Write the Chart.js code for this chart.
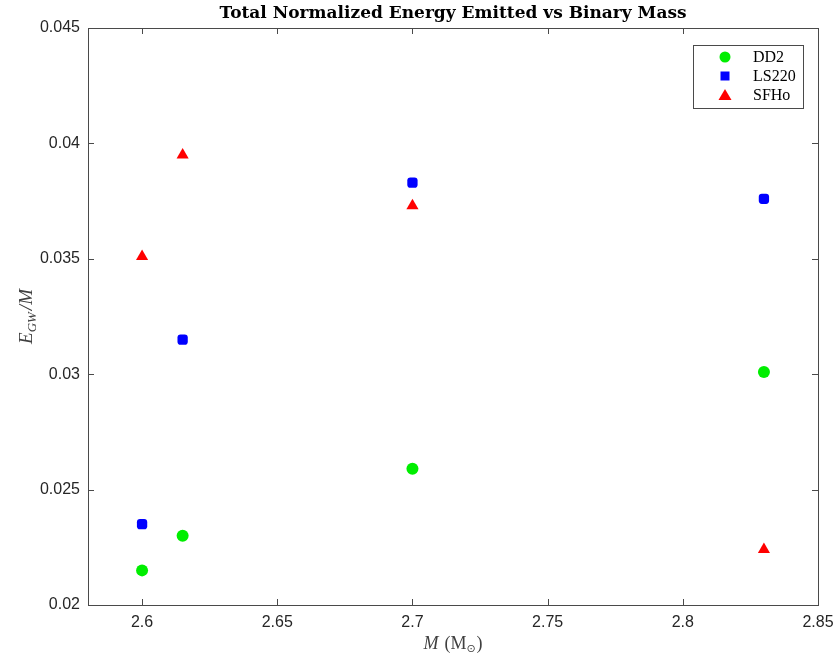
<!DOCTYPE html>
<html>
<head>
<meta charset="utf-8">
<script src="https://cdn.jsdelivr.net/npm/chart.js@4.4.0/dist/chart.umd.min.js"></script>
<style>
  html, body { margin: 0; padding: 0; background: #fff; }
  #wrap { width: 837px; height: 660px; }
</style>
</head>
<body>
<div id="wrap"><canvas id="chart"></canvas></div>
<script>
// Data
const masses = [2.6, 2.615, 2.7, 2.83];
const dd2 = [0.0215, 0.0230, 0.0259, 0.0301];
const ls220 = [0.0235, 0.0315, 0.0383, 0.0376];
const sfho = [0.0351, 0.0395, 0.0373, 0.0224];

const xTicks = [2.6, 2.65, 2.7, 2.75, 2.8, 2.85];
const yTicks = [0.02, 0.025, 0.03, 0.035, 0.04, 0.045];

const AXIS = '#262626';
const FRAME = '#4a4a4a';

function pts(ys) {
    return masses.map((m, i) => ({ x: m, y: ys[i] }));
}

// box, inner ticks, title, axis labels and legend
const framePlugin = {
    id: 'frame',
    afterDraw(chart) {
        const { ctx, chartArea: a, scales } = chart;
        ctx.save();
        ctx.strokeStyle = FRAME;
        ctx.lineWidth = 1;
        ctx.strokeRect(a.left + 0.5, a.top + 0.5, a.right - a.left, a.bottom - a.top);

        const tl = 6;
        ctx.beginPath();
        xTicks.forEach(v => {
            const px = Math.round(scales.x.getPixelForValue(v)) + 0.5;
            ctx.moveTo(px, a.bottom); ctx.lineTo(px, a.bottom - tl);
            ctx.moveTo(px, a.top); ctx.lineTo(px, a.top + tl);
        });
        yTicks.forEach(v => {
            const py = Math.round(scales.y.getPixelForValue(v)) + 0.5;
            ctx.moveTo(a.left, py); ctx.lineTo(a.left + tl, py);
            ctx.moveTo(a.right, py); ctx.lineTo(a.right - tl, py);
        });
        ctx.stroke();

        // title
        ctx.fillStyle = '#000';
        ctx.font = 'bold 17px "DejaVu Serif", serif';
        ctx.textAlign = 'center';
        ctx.textBaseline = 'alphabetic';
        ctx.fillText('Total Normalized Energy Emitted vs Binary Mass', (a.left + a.right) / 2, 18);

        // x label: M (M_sun)
        ctx.fillStyle = '#404040';
        const cx = (a.left + a.right) / 2;
        const by = 649;
        ctx.textAlign = 'left';
        const fIt = 'italic 18px "Liberation Serif", serif';
        const fRm = '18px "Liberation Serif", serif';
        const fSun = '11px "DejaVu Sans", sans-serif';
        ctx.font = fIt;
        const w1 = ctx.measureText('M').width;
        ctx.font = fRm;
        const w2 = ctx.measureText('(M').width;
        const w4 = ctx.measureText(')').width;
        ctx.font = fSun;
        const w3 = ctx.measureText('\u2299').width;
        let x0 = cx - (w1 + 6 + w2 + w3 + 1 + w4) / 2;
        ctx.font = fIt;
        ctx.fillText('M', x0, by); x0 += w1 + 6;
        ctx.font = fRm;
        ctx.fillText('(M', x0, by); x0 += w2;
        ctx.font = fSun;
        ctx.fillText('\u2299', x0, by + 3); x0 += w3 + 1;
        ctx.font = fRm;
        ctx.fillText(')', x0, by);

        // y label: E_GW / M
        ctx.save();
        ctx.translate(26, (a.top + a.bottom) / 2);
        ctx.rotate(-Math.PI / 2);
        const fBig = 'italic 19px "Liberation Serif", serif';
        const fSub = 'italic 13px "Liberation Serif", serif';
        ctx.font = fBig;
        const we = ctx.measureText('E').width;
        const wsl = ctx.measureText('/M').width;
        ctx.font = fSub;
        const wgw = ctx.measureText('GW').width;
        let y0 = -(we + wgw + 2 + wsl) / 2;
        ctx.font = fBig;
        ctx.fillText('E', y0, 6); y0 += we;
        ctx.font = fSub;
        ctx.fillText('GW', y0, 10); y0 += wgw + 2;
        ctx.font = fBig;
        ctx.fillText('/M', y0, 6);
        ctx.restore();

        // legend
        const lx = 693, ly = 45, lw = 110, lh = 63;
        ctx.fillStyle = '#fff';
        ctx.fillRect(lx, ly, lw, lh);
        ctx.strokeStyle = FRAME;
        ctx.strokeRect(lx + 0.5, ly + 0.5, lw, lh);
        ctx.font = '16px "Liberation Serif", serif';
        ctx.textBaseline = 'middle';
        chart.data.datasets.forEach((ds, i) => {
            const my = ly + 12 + i * 19;
            const mx = lx + 32;
            ctx.fillStyle = ds.backgroundColor;
            ctx.beginPath();
            if (ds.pointStyle === 'circle') {
                ctx.arc(mx, my, 5.5, 0, Math.PI * 2);
            } else if (ds.pointStyle === 'rectRounded') {
                ctx.rect(mx - 4.5, my - 4.5, 9, 9);
            } else {
                ctx.moveTo(mx, my - 6); ctx.lineTo(mx + 6.5, my + 5); ctx.lineTo(mx - 6.5, my + 5);
                ctx.closePath();
            }
            ctx.fill();
            ctx.fillStyle = '#000';
            ctx.textAlign = 'left';
            ctx.fillText(ds.label, lx + 60, my + 1);
        });
        ctx.restore();
    }
};

new Chart(document.getElementById('chart'), {
    type: 'scatter',
    data: {
        datasets: [
            { label: 'DD2', data: pts(dd2), backgroundColor: '#00ee00', borderColor: '#00ee00',
              pointStyle: 'circle', pointRadius: 6, borderWidth: 0 },
            { label: 'LS220', data: pts(ls220), backgroundColor: '#0000ff', borderColor: '#0000ff',
              pointStyle: 'rectRounded', pointRadius: 6, borderWidth: 0 },
            { label: 'SFHo', data: pts(sfho), backgroundColor: '#ff0000', borderColor: '#ff0000',
              pointStyle: 'triangle', pointRadius: 7, borderWidth: 0 }
        ]
    },
    options: {
        responsive: true,
        maintainAspectRatio: false,
        animation: false,
        layout: { padding: { top: 28, right: 19, left: 0, bottom: 0 } },
        plugins: {
            legend: { display: false },
            tooltip: { enabled: false }
        },
        scales: {
            x: {
                type: 'linear',
                min: 2.58, max: 2.85,
                afterBuildTicks: s => { s.ticks = xTicks.map(v => ({ value: v })); },
                afterFit: s => { s.height = 55; },
                grid: { display: false },
                border: { display: false },
                ticks: {
                    color: AXIS, padding: 0,
                    font: { family: '"Liberation Sans", Arial, sans-serif', size: 16 },
                    callback: v => String(v)
                }
            },
            y: {
                type: 'linear',
                min: 0.02, max: 0.045,
                afterBuildTicks: s => { s.ticks = yTicks.map(v => ({ value: v })); },
                afterFit: s => { s.width = 88; },
                grid: { display: false },
                border: { display: false },
                ticks: {
                    color: AXIS, padding: 0,
                    font: { family: '"Liberation Sans", Arial, sans-serif', size: 16 },
                    callback: v => String(v)
                }
            }
        }
    },
    plugins: [framePlugin]
});
</script>
</body>
</html>
